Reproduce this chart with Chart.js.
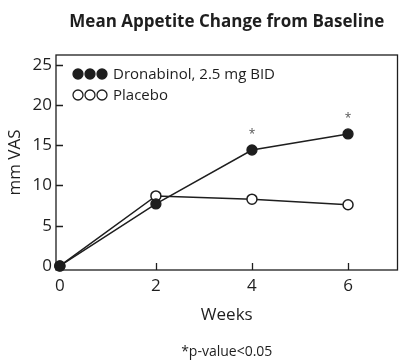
<!DOCTYPE html>
<html>
<head>
<meta charset="utf-8">
<script src="https://cdn.jsdelivr.net/npm/chart.js@4.4.1/dist/chart.umd.min.js"></script>
<style>
  html, body { margin: 0; padding: 0; background: #fff; }
  #wrap { width: 404px; height: 364px; }
</style>
</head>
<body>
<div id="wrap"><canvas id="myChart"></canvas></div>
<script>
// data
var weeks = [0, 2, 4, 6];
var dronabinol = [0, 7.7, 14.4, 16.4];
var placebo = [0, 8.7, 8.3, 7.6];
var significant = [false, false, true, true];   // '*' p < 0.05
var xTicks = [0, 2, 4, 6];
var yTicks = [0, 5, 10, 15, 20, 25];
var seriesNames = ['Dronabinol, 2.5 mg BID', 'Placebo'];

var ink = '#1e1e1e';
var fontFam = "'Open Sans', 'Noto Sans', sans-serif";

function toPoints(ys) {
    return weeks.map((w, i) => ({ x: w, y: ys[i] }));
}

// frame, inward ticks, in-plot legend and asterisks
var decorations = {
    id: 'decorations',
    afterDatasetsDraw(chart) {
        var ctx = chart.ctx;
        var a = chart.chartArea;
        var xs = chart.scales.x, ys = chart.scales.y;
        ctx.save();
        ctx.strokeStyle = ink;
        ctx.lineWidth = 1.3;
        ctx.strokeRect(a.left, a.top, a.right - a.left, a.bottom - a.top);

        ctx.beginPath();
        yTicks.forEach(v => {
            var py = Math.round(ys.getPixelForValue(v)) + 0.5;
            ctx.moveTo(a.left, py);
            ctx.lineTo(a.left + 7, py);
        });
        xTicks.forEach(v => {
            var px = Math.round(xs.getPixelForValue(v)) + 0.5;
            ctx.moveTo(px, a.bottom);
            ctx.lineTo(px, a.bottom - 7);
        });
        ctx.stroke();

        // asterisks over significant points
        ctx.fillStyle = '#555';
        ctx.font = '12px ' + fontFam;
        ctx.textAlign = 'center';
        ctx.textBaseline = 'middle';
        significant.forEach((s, i) => {
            if (!s) return;
            var px = xs.getPixelForValue(weeks[i]);
            var py = ys.getPixelForValue(dronabinol[i]);
            ctx.fillText('*', px, py - 15);
        });

        // legend: three markers then label
        ctx.font = '15px ' + fontFam;
        ctx.textAlign = 'left';
        ctx.fillStyle = ink;
        var rows = [{ y: 74, fill: true }, { y: 95, fill: false }];
        rows.forEach((r, k) => {
            for (var j = 0; j < 3; j++) {
                ctx.beginPath();
                ctx.arc(78 + j * 12, r.y, 5, 0, Math.PI * 2);
                ctx.fillStyle = r.fill ? ink : '#fff';
                ctx.fill();
                ctx.lineWidth = 1.3;
                ctx.stroke();
            }
            ctx.fillStyle = ink;
            ctx.fillText(seriesNames[k], 113, r.y + 1);
        });
        ctx.restore();
    }
};

var ctx = document.getElementById('myChart').getContext('2d');
var myChart = new Chart(ctx, {
    type: 'line',
    data: {
        datasets: [{
            label: seriesNames[0],
            data: toPoints(dronabinol),
            borderColor: ink,
            borderWidth: 1.5,
            backgroundColor: ink,
            pointRadius: 5,
            pointBorderWidth: 1.3,
            pointBorderColor: ink,
            pointBackgroundColor: ink,
            clip: false
        }, {
            label: seriesNames[1],
            data: toPoints(placebo),
            borderColor: ink,
            borderWidth: 1.5,
            backgroundColor: '#fff',
            pointRadius: 5,
            pointBorderWidth: 1.5,
            pointBorderColor: ink,
            pointBackgroundColor: '#fff',
            clip: false
        }]
    },
    options: {
        responsive: true,
        maintainAspectRatio: false,
        animation: false,
        layout: { padding: { left: 0, right: 6, top: 0, bottom: 0 } },
        plugins: {
            legend: { display: false },
            tooltip: { enabled: false },
            title: {
                display: true,
                fullSize: false,
                text: 'Mean Appetite Change from Baseline',
                color: ink,
                font: { family: fontFam, size: 17, weight: 'bold' },
                padding: { top: 12, bottom: 22.6 }
            },
            subtitle: {
                display: true,
                fullSize: false,
                position: 'bottom',
                text: '*p-value<0.05',
                color: ink,
                font: { family: fontFam, size: 14 },
                padding: { top: 0, bottom: 3.6 }
            }
        },
        scales: {
            x: {
                type: 'linear',
                min: -0.08,
                max: 7.03,
                afterBuildTicks: s => { s.ticks = xTicks.map(v => ({ value: v })); },
                afterFit: s => { s.height = 73.6; },
                grid: { display: false, drawTicks: false },
                border: { display: false },
                ticks: { color: ink, font: { family: fontFam, size: 17 }, padding: 6 },
                title: {
                    display: true,
                    text: 'Weeks',
                    color: ink,
                    font: { family: fontFam, size: 17 },
                    padding: { top: 0, bottom: 18.4 }
                }
            },
            y: {
                min: -0.5,
                max: 26.2,
                afterBuildTicks: s => { s.ticks = yTicks.map(v => ({ value: v })); },
                afterFit: s => { s.width = 56; },
                grid: { display: false, drawTicks: false },
                border: { display: false },
                ticks: { color: ink, font: { family: fontFam, size: 17 }, padding: 4 },
                title: {
                    display: true,
                    text: 'mm VAS',
                    color: ink,
                    font: { family: fontFam, size: 17 },
                    padding: { top: 4.8, bottom: 0 }
                }
            }
        }
    },
    plugins: [decorations]
});
</script>
</body>
</html>
